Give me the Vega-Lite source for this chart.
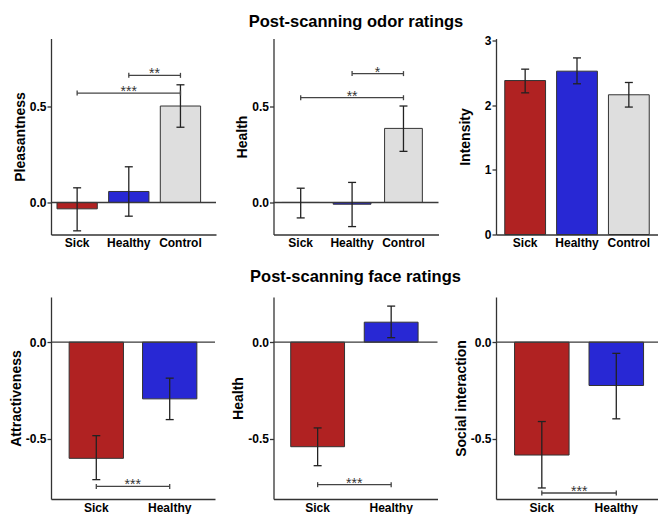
{
"$schema": "https://vega.github.io/schema/vega-lite/v6.json",
"padding": {"left": 9, "top": 13.5, "right": 0, "bottom": 0},
"bounds": "flush",
"columns": 3,
"spacing": {"row": 62.5, "column": 57.5},
"datasets": {
 "bars": [
  {"panel": "odor_pleas", "group": "Sick", "mean": -0.033, "lo": -0.147, "hi": 0.076},
  {"panel": "odor_pleas", "group": "Healthy", "mean": 0.057, "lo": -0.071, "hi": 0.185},
  {"panel": "odor_pleas", "group": "Control", "mean": 0.50, "lo": 0.39, "hi": 0.61},
  {"panel": "odor_health", "group": "Sick", "mean": 0.0, "lo": -0.08, "hi": 0.074},
  {"panel": "odor_health", "group": "Healthy", "mean": -0.009, "lo": -0.125, "hi": 0.104},
  {"panel": "odor_health", "group": "Control", "mean": 0.384, "lo": 0.265, "hi": 0.50},
  {"panel": "odor_int", "group": "Sick", "mean": 2.38, "lo": 2.19, "hi": 2.556},
  {"panel": "odor_int", "group": "Healthy", "mean": 2.525, "lo": 2.33, "hi": 2.73},
  {"panel": "odor_int", "group": "Control", "mean": 2.16, "lo": 1.97, "hi": 2.35},
  {"panel": "face_attr", "group": "Sick", "mean": -0.60, "lo": -0.71, "hi": -0.483},
  {"panel": "face_attr", "group": "Healthy", "mean": -0.293, "lo": -0.40, "hi": -0.186},
  {"panel": "face_health", "group": "Sick", "mean": -0.54, "lo": -0.638, "hi": -0.443},
  {"panel": "face_health", "group": "Healthy", "mean": 0.103, "lo": 0.023, "hi": 0.186},
  {"panel": "face_social", "group": "Sick", "mean": -0.583, "lo": -0.753, "hi": -0.41},
  {"panel": "face_social", "group": "Healthy", "mean": -0.224, "lo": -0.396, "hi": -0.058}
 ],
 "brackets": [
  {"panel": "odor_pleas", "from": "Sick", "to": "Control", "y": 0.567, "label": "***"},
  {"panel": "odor_pleas", "from": "Healthy", "to": "Control", "y": 0.659, "label": "**"},
  {"panel": "odor_health", "from": "Sick", "to": "Control", "y": 0.543, "label": "**"},
  {"panel": "odor_health", "from": "Healthy", "to": "Control", "y": 0.668, "label": "*"},
  {"panel": "face_attr", "from": "Sick", "to": "Healthy", "y": -0.745, "label": "***"},
  {"panel": "face_health", "from": "Sick", "to": "Healthy", "y": -0.736, "label": "***"},
  {"panel": "face_social", "from": "Sick", "to": "Healthy", "y": -0.779, "label": "***"}
 ]
},
"concat": [
  {"width": 165, "height": 196, "layer": [
   {"data": {"name": "bars"}, "transform": [{"filter": "datum.panel==='odor_pleas'"}],
    "mark": {"type": "bar", "stroke": "#333", "strokeWidth": 1},
    "encoding": {
     "x": {"field": "group", "type": "nominal", "scale": {"domain": ["Sick", "Healthy", "Control"], "paddingInner": 0.22, "paddingOuter": 0.207, "align": 0.28}, "title": null},
     "y": {"field": "mean", "type": "quantitative", "scale": {"domain": [-0.166, 0.85], "nice": false, "zero": false}, "axis": {"values": [0, 0.5], "labelExpr": "datum.value < 0 ? '-' + format(-datum.value, '.1f') : format(datum.value, '.1f')"}, "title": "Pleasantness"},
     "color": {"field": "group", "type": "nominal", "scale": {"domain": ["Sick", "Healthy", "Control"], "range": ["#B02222", "#2828D4", "#DEDEDE"]}, "legend": null}}},
   {"data": {"values": [{}]}, "mark": {"type": "rule", "color": "#3a3a3a", "strokeWidth": 1.3}, "encoding": {"y": {"datum": 0}}},
   {"data": {"name": "bars"}, "transform": [{"filter": "datum.panel==='odor_pleas'"}],
    "mark": {"type": "rule", "color": "#222", "strokeWidth": 1.3},
    "encoding": {"x": {"field": "group", "type": "nominal"}, "y": {"field": "lo", "type": "quantitative"}, "y2": {"field": "hi"}}},
   {"data": {"name": "bars"}, "transform": [{"filter": "datum.panel==='odor_pleas'"}, {"fold": ["lo", "hi"], "as": ["k", "v"]}],
    "mark": {"type": "point", "shape": "M-1,0L1,0", "size": 64, "filled": false, "stroke": "#222", "strokeWidth": 1.3, "opacity": 1},
    "encoding": {"x": {"field": "group", "type": "nominal"}, "y": {"field": "v", "type": "quantitative"}}},
   {"data": {"name": "brackets"}, "transform": [{"filter": "datum.panel==='odor_pleas'"}],
    "mark": {"type": "rule", "color": "#444", "strokeWidth": 1.3},
    "encoding": {"x": {"field": "from", "type": "nominal", "bandPosition": 0.5}, "x2": {"field": "to", "bandPosition": 0.5}, "y": {"field": "y", "type": "quantitative"}}},
   {"data": {"name": "brackets"}, "transform": [{"filter": "datum.panel==='odor_pleas'"}, {"fold": ["from", "to"], "as": ["k", "cat"]}],
    "mark": {"type": "point", "shape": "M0,-1L0,1", "size": 25, "filled": false, "stroke": "#444", "strokeWidth": 1.3, "opacity": 1},
    "encoding": {"x": {"field": "cat", "type": "nominal"}, "y": {"field": "y", "type": "quantitative"}}},
   {"data": {"name": "brackets"}, "transform": [{"filter": "datum.panel==='odor_pleas' && datum.from==='Sick'"}],
    "mark": {"type": "text", "fontSize": 14, "color": "#333", "baseline": "alphabetic", "dy": 3},
    "encoding": {"x": {"datum": "Healthy", "type": "nominal", "bandPosition": 0.5}, "y": {"field": "y", "type": "quantitative"}, "text": {"field": "label"}}},
   {"data": {"name": "brackets"}, "transform": [{"filter": "datum.panel==='odor_pleas' && datum.from==='Healthy'"}],
    "mark": {"type": "text", "fontSize": 14, "color": "#333", "baseline": "alphabetic", "dy": 3, "dx": -26},
    "encoding": {"x": {"datum": "Control", "type": "nominal", "bandPosition": 0.5}, "y": {"field": "y", "type": "quantitative"}, "text": {"field": "label"}}}
  ]},
  {"width": 165, "height": 196,
   "title": {"text": "Post-scanning odor ratings", "fontSize": 16.5, "fontWeight": "bold", "font": "Liberation Sans", "color": "#000", "anchor": "middle", "baseline": "alphabetic", "offset": -4.5},
   "layer": [
   {"data": {"name": "bars"}, "transform": [{"filter": "datum.panel==='odor_health'"}],
    "mark": {"type": "bar", "stroke": "#333", "strokeWidth": 1},
    "encoding": {
     "x": {"field": "group", "type": "nominal", "scale": {"domain": ["Sick", "Healthy", "Control"], "paddingInner": 0.265, "paddingOuter": 0.238, "align": 0.34}, "title": null},
     "y": {"field": "mean", "type": "quantitative", "scale": {"domain": [-0.166, 0.85], "nice": false, "zero": false}, "axis": {"values": [0, 0.5], "labelExpr": "datum.value < 0 ? '-' + format(-datum.value, '.1f') : format(datum.value, '.1f')"}, "title": "Health"},
     "color": {"field": "group", "type": "nominal", "scale": {"domain": ["Sick", "Healthy", "Control"], "range": ["#B02222", "#2828D4", "#DEDEDE"]}, "legend": null}}},
   {"data": {"values": [{}]}, "mark": {"type": "rule", "color": "#3a3a3a", "strokeWidth": 1.3}, "encoding": {"y": {"datum": 0}}},
   {"data": {"name": "bars"}, "transform": [{"filter": "datum.panel==='odor_health'"}],
    "mark": {"type": "rule", "color": "#222", "strokeWidth": 1.3},
    "encoding": {"x": {"field": "group", "type": "nominal"}, "y": {"field": "lo", "type": "quantitative"}, "y2": {"field": "hi"}}},
   {"data": {"name": "bars"}, "transform": [{"filter": "datum.panel==='odor_health'"}, {"fold": ["lo", "hi"], "as": ["k", "v"]}],
    "mark": {"type": "point", "shape": "M-1,0L1,0", "size": 64, "filled": false, "stroke": "#222", "strokeWidth": 1.3, "opacity": 1},
    "encoding": {"x": {"field": "group", "type": "nominal"}, "y": {"field": "v", "type": "quantitative"}}},
   {"data": {"name": "brackets"}, "transform": [{"filter": "datum.panel==='odor_health'"}],
    "mark": {"type": "rule", "color": "#444", "strokeWidth": 1.3},
    "encoding": {"x": {"field": "from", "type": "nominal", "bandPosition": 0.5}, "x2": {"field": "to", "bandPosition": 0.5}, "y": {"field": "y", "type": "quantitative"}}},
   {"data": {"name": "brackets"}, "transform": [{"filter": "datum.panel==='odor_health'"}, {"fold": ["from", "to"], "as": ["k", "cat"]}],
    "mark": {"type": "point", "shape": "M0,-1L0,1", "size": 25, "filled": false, "stroke": "#444", "strokeWidth": 1.3, "opacity": 1},
    "encoding": {"x": {"field": "cat", "type": "nominal"}, "y": {"field": "y", "type": "quantitative"}}},
   {"data": {"name": "brackets"}, "transform": [{"filter": "datum.panel==='odor_health' && datum.from==='Sick'"}],
    "mark": {"type": "text", "fontSize": 14, "color": "#333", "baseline": "alphabetic", "dy": 3},
    "encoding": {"x": {"datum": "Healthy", "type": "nominal", "bandPosition": 0.5}, "y": {"field": "y", "type": "quantitative"}, "text": {"field": "label"}}},
   {"data": {"name": "brackets"}, "transform": [{"filter": "datum.panel==='odor_health' && datum.from==='Healthy'"}],
    "mark": {"type": "text", "fontSize": 14, "color": "#333", "baseline": "alphabetic", "dy": 3, "dx": -26},
    "encoding": {"x": {"datum": "Control", "type": "nominal", "bandPosition": 0.5}, "y": {"field": "y", "type": "quantitative"}, "text": {"field": "label"}}}
  ]},
  {"width": 162, "height": 196, "layer": [
   {"data": {"name": "bars"}, "transform": [{"filter": "datum.panel==='odor_int'"}],
    "mark": {"type": "bar", "stroke": "#333", "strokeWidth": 1},
    "encoding": {
     "x": {"field": "group", "type": "nominal", "scale": {"domain": ["Sick", "Healthy", "Control"], "paddingInner": 0.213, "paddingOuter": 0.169, "align": 0.5}, "title": null},
     "y": {"field": "mean", "type": "quantitative", "scale": {"domain": [0, 3.03], "nice": false, "zero": false}, "axis": {"values": [0, 1, 2, 3], "format": "d", "titlePadding": 12}, "title": "Intensity"},
     "color": {"field": "group", "type": "nominal", "scale": {"domain": ["Sick", "Healthy", "Control"], "range": ["#B02222", "#2828D4", "#DEDEDE"]}, "legend": null}}},
   {"data": {"name": "bars"}, "transform": [{"filter": "datum.panel==='odor_int'"}],
    "mark": {"type": "rule", "color": "#222", "strokeWidth": 1.3},
    "encoding": {"x": {"field": "group", "type": "nominal"}, "y": {"field": "lo", "type": "quantitative"}, "y2": {"field": "hi"}}},
   {"data": {"name": "bars"}, "transform": [{"filter": "datum.panel==='odor_int'"}, {"fold": ["lo", "hi"], "as": ["k", "v"]}],
    "mark": {"type": "point", "shape": "M-1,0L1,0", "size": 64, "filled": false, "stroke": "#222", "strokeWidth": 1.3, "opacity": 1},
    "encoding": {"x": {"field": "group", "type": "nominal"}, "y": {"field": "v", "type": "quantitative"}}}
  ]},
  {"width": 164, "height": 202, "layer": [
   {"data": {"name": "bars"}, "transform": [{"filter": "datum.panel==='face_attr'"}],
    "mark": {"type": "bar", "stroke": "#333", "strokeWidth": 1},
    "encoding": {
     "x": {"field": "group", "type": "nominal", "scale": {"domain": ["Sick", "Healthy"], "paddingInner": 0.26, "paddingOuter": 0.247, "align": 0.5}, "title": null},
     "y": {"field": "mean", "type": "quantitative", "scale": {"domain": [-0.81, 0.233], "nice": false, "zero": false}, "axis": {"values": [-0.5, 0], "labelExpr": "datum.value < 0 ? '-' + format(-datum.value, '.1f') : format(datum.value, '.1f')"}, "title": "Attractiveness"},
     "color": {"field": "group", "type": "nominal", "scale": {"domain": ["Sick", "Healthy", "Control"], "range": ["#B02222", "#2828D4", "#DEDEDE"]}, "legend": null}}},
   {"data": {"values": [{}]}, "mark": {"type": "rule", "color": "#3a3a3a", "strokeWidth": 1.3}, "encoding": {"y": {"datum": 0}}},
   {"data": {"name": "bars"}, "transform": [{"filter": "datum.panel==='face_attr'"}],
    "mark": {"type": "rule", "color": "#222", "strokeWidth": 1.3},
    "encoding": {"x": {"field": "group", "type": "nominal"}, "y": {"field": "lo", "type": "quantitative"}, "y2": {"field": "hi"}}},
   {"data": {"name": "bars"}, "transform": [{"filter": "datum.panel==='face_attr'"}, {"fold": ["lo", "hi"], "as": ["k", "v"]}],
    "mark": {"type": "point", "shape": "M-1,0L1,0", "size": 64, "filled": false, "stroke": "#222", "strokeWidth": 1.3, "opacity": 1},
    "encoding": {"x": {"field": "group", "type": "nominal"}, "y": {"field": "v", "type": "quantitative"}}},
   {"data": {"name": "brackets"}, "transform": [{"filter": "datum.panel==='face_attr'"}],
    "mark": {"type": "rule", "color": "#444", "strokeWidth": 1.3},
    "encoding": {"x": {"field": "from", "type": "nominal", "bandPosition": 0.5}, "x2": {"field": "to", "bandPosition": 0.5}, "y": {"field": "y", "type": "quantitative"}}},
   {"data": {"name": "brackets"}, "transform": [{"filter": "datum.panel==='face_attr'"}, {"fold": ["from", "to"], "as": ["k", "cat"]}],
    "mark": {"type": "point", "shape": "M0,-1L0,1", "size": 25, "filled": false, "stroke": "#444", "strokeWidth": 1.3, "opacity": 1},
    "encoding": {"x": {"field": "cat", "type": "nominal"}, "y": {"field": "y", "type": "quantitative"}}},
   {"data": {"name": "brackets"}, "transform": [{"filter": "datum.panel==='face_attr'"}],
    "mark": {"type": "text", "fontSize": 14, "color": "#333", "baseline": "alphabetic", "dy": 3, "dx": -37},
    "encoding": {"x": {"datum": "Healthy", "type": "nominal", "bandPosition": 0.5}, "y": {"field": "y", "type": "quantitative"}, "text": {"field": "label"}}}
  ]},
  {"width": 164, "height": 202,
   "title": {"text": "Post-scanning face ratings", "fontSize": 16.5, "fontWeight": "bold", "font": "Liberation Sans", "color": "#000", "anchor": "middle", "baseline": "alphabetic", "offset": -1.5},
   "layer": [
   {"data": {"name": "bars"}, "transform": [{"filter": "datum.panel==='face_health'"}],
    "mark": {"type": "bar", "stroke": "#333", "strokeWidth": 1},
    "encoding": {
     "x": {"field": "group", "type": "nominal", "scale": {"domain": ["Sick", "Healthy"], "paddingInner": 0.268, "paddingOuter": 0.249, "align": 0.47}, "title": null},
     "y": {"field": "mean", "type": "quantitative", "scale": {"domain": [-0.81, 0.233], "nice": false, "zero": false}, "axis": {"values": [-0.5, 0], "labelExpr": "datum.value < 0 ? '-' + format(-datum.value, '.1f') : format(datum.value, '.1f')"}, "title": "Health"},
     "color": {"field": "group", "type": "nominal", "scale": {"domain": ["Sick", "Healthy", "Control"], "range": ["#B02222", "#2828D4", "#DEDEDE"]}, "legend": null}}},
   {"data": {"values": [{}]}, "mark": {"type": "rule", "color": "#3a3a3a", "strokeWidth": 1.3}, "encoding": {"y": {"datum": 0}}},
   {"data": {"name": "bars"}, "transform": [{"filter": "datum.panel==='face_health'"}],
    "mark": {"type": "rule", "color": "#222", "strokeWidth": 1.3},
    "encoding": {"x": {"field": "group", "type": "nominal"}, "y": {"field": "lo", "type": "quantitative"}, "y2": {"field": "hi"}}},
   {"data": {"name": "bars"}, "transform": [{"filter": "datum.panel==='face_health'"}, {"fold": ["lo", "hi"], "as": ["k", "v"]}],
    "mark": {"type": "point", "shape": "M-1,0L1,0", "size": 64, "filled": false, "stroke": "#222", "strokeWidth": 1.3, "opacity": 1},
    "encoding": {"x": {"field": "group", "type": "nominal"}, "y": {"field": "v", "type": "quantitative"}}},
   {"data": {"name": "brackets"}, "transform": [{"filter": "datum.panel==='face_health'"}],
    "mark": {"type": "rule", "color": "#444", "strokeWidth": 1.3},
    "encoding": {"x": {"field": "from", "type": "nominal", "bandPosition": 0.5}, "x2": {"field": "to", "bandPosition": 0.5}, "y": {"field": "y", "type": "quantitative"}}},
   {"data": {"name": "brackets"}, "transform": [{"filter": "datum.panel==='face_health'"}, {"fold": ["from", "to"], "as": ["k", "cat"]}],
    "mark": {"type": "point", "shape": "M0,-1L0,1", "size": 25, "filled": false, "stroke": "#444", "strokeWidth": 1.3, "opacity": 1},
    "encoding": {"x": {"field": "cat", "type": "nominal"}, "y": {"field": "y", "type": "quantitative"}}},
   {"data": {"name": "brackets"}, "transform": [{"filter": "datum.panel==='face_health'"}],
    "mark": {"type": "text", "fontSize": 14, "color": "#333", "baseline": "alphabetic", "dy": 3, "dx": -37},
    "encoding": {"x": {"datum": "Healthy", "type": "nominal", "bandPosition": 0.5}, "y": {"field": "y", "type": "quantitative"}, "text": {"field": "label"}}}
  ]},
  {"width": 164, "height": 202, "layer": [
   {"data": {"name": "bars"}, "transform": [{"filter": "datum.panel==='face_social'"}],
    "mark": {"type": "bar", "stroke": "#333", "strokeWidth": 1},
    "encoding": {
     "x": {"field": "group", "type": "nominal", "scale": {"domain": ["Sick", "Healthy"], "paddingInner": 0.268, "paddingOuter": 0.235, "align": 0.53}, "title": null},
     "y": {"field": "mean", "type": "quantitative", "scale": {"domain": [-0.81, 0.233], "nice": false, "zero": false}, "axis": {"values": [-0.5, 0], "labelExpr": "datum.value < 0 ? '-' + format(-datum.value, '.1f') : format(datum.value, '.1f')"}, "title": "Social interaction"},
     "color": {"field": "group", "type": "nominal", "scale": {"domain": ["Sick", "Healthy", "Control"], "range": ["#B02222", "#2828D4", "#DEDEDE"]}, "legend": null}}},
   {"data": {"values": [{}]}, "mark": {"type": "rule", "color": "#3a3a3a", "strokeWidth": 1.3}, "encoding": {"y": {"datum": 0}}},
   {"data": {"name": "bars"}, "transform": [{"filter": "datum.panel==='face_social'"}],
    "mark": {"type": "rule", "color": "#222", "strokeWidth": 1.3},
    "encoding": {"x": {"field": "group", "type": "nominal"}, "y": {"field": "lo", "type": "quantitative"}, "y2": {"field": "hi"}}},
   {"data": {"name": "bars"}, "transform": [{"filter": "datum.panel==='face_social'"}, {"fold": ["lo", "hi"], "as": ["k", "v"]}],
    "mark": {"type": "point", "shape": "M-1,0L1,0", "size": 64, "filled": false, "stroke": "#222", "strokeWidth": 1.3, "opacity": 1},
    "encoding": {"x": {"field": "group", "type": "nominal"}, "y": {"field": "v", "type": "quantitative"}}},
   {"data": {"name": "brackets"}, "transform": [{"filter": "datum.panel==='face_social'"}],
    "mark": {"type": "rule", "color": "#444", "strokeWidth": 1.3},
    "encoding": {"x": {"field": "from", "type": "nominal", "bandPosition": 0.5}, "x2": {"field": "to", "bandPosition": 0.5}, "y": {"field": "y", "type": "quantitative"}}},
   {"data": {"name": "brackets"}, "transform": [{"filter": "datum.panel==='face_social'"}, {"fold": ["from", "to"], "as": ["k", "cat"]}],
    "mark": {"type": "point", "shape": "M0,-1L0,1", "size": 25, "filled": false, "stroke": "#444", "strokeWidth": 1.3, "opacity": 1},
    "encoding": {"x": {"field": "cat", "type": "nominal"}, "y": {"field": "y", "type": "quantitative"}}},
   {"data": {"name": "brackets"}, "transform": [{"filter": "datum.panel==='face_social'"}],
    "mark": {"type": "text", "fontSize": 14, "color": "#333", "baseline": "alphabetic", "dy": 3, "dx": -37},
    "encoding": {"x": {"datum": "Healthy", "type": "nominal", "bandPosition": 0.5}, "y": {"field": "y", "type": "quantitative"}, "text": {"field": "label"}}}
  ]}
],
"config": {
 "view": {"stroke": null},
 "font": "Liberation Sans",
 "axis": {"labelFont": "Liberation Sans", "labelFontSize": 12, "labelFontWeight": "bold", "labelColor": "#000", "titleFont": "Liberation Sans", "titleFontSize": 14, "titleFontWeight": "bold", "titleColor": "#000", "domainColor": "#333", "domainWidth": 1.3, "tickColor": "#333", "tickWidth": 1.3, "grid": false},
 "axisX": {"ticks": false, "tickSize": 0, "labelAngle": 0, "labelPadding": 3},
 "axisY": {"tickSize": 4, "labelPadding": 1, "titlePadding": 2}
}
}
